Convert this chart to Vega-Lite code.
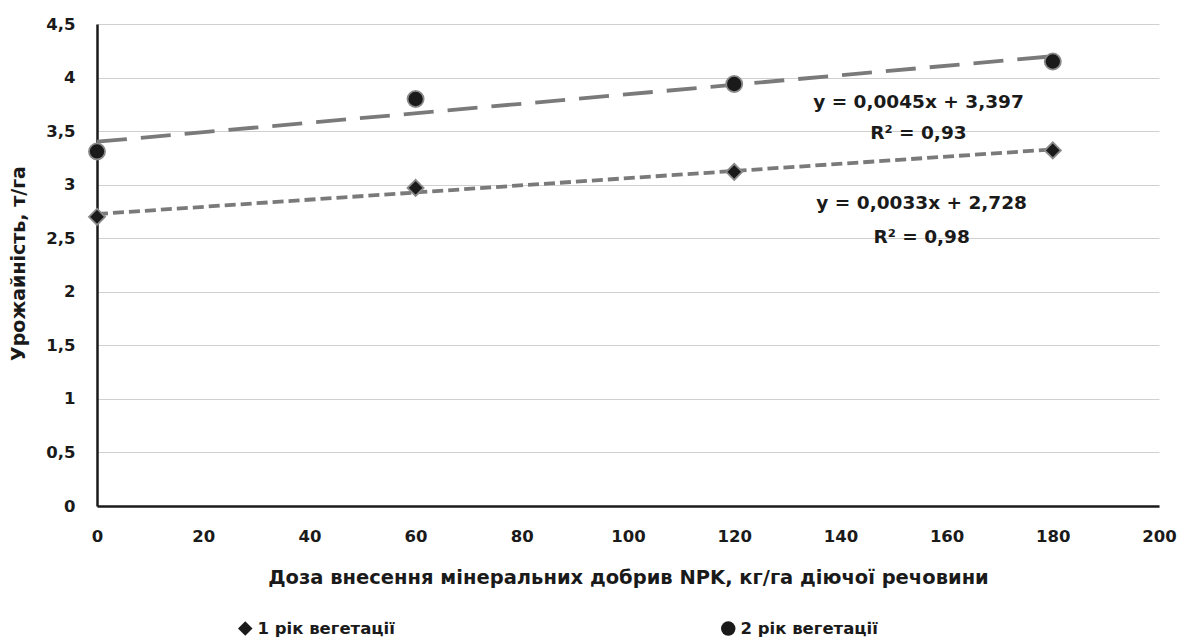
{
  "$schema": "https://vega.github.io/schema/vega-lite/v6.json",
  "width": 1062,
  "height": 482,
  "autosize": {"type": "none"},
  "padding": {"left": 97, "top": 24, "right": 21, "bottom": 133},
  "background": "white",
  "datasets": {
    "points": [
      {"dose": 0, "yield": 2.70, "series": "1 рік вегетації"},
      {"dose": 60, "yield": 2.97, "series": "1 рік вегетації"},
      {"dose": 120, "yield": 3.12, "series": "1 рік вегетації"},
      {"dose": 180, "yield": 3.32, "series": "1 рік вегетації"},
      {"dose": 0, "yield": 3.31, "series": "2 рік вегетації"},
      {"dose": 60, "yield": 3.80, "series": "2 рік вегетації"},
      {"dose": 120, "yield": 3.94, "series": "2 рік вегетації"},
      {"dose": 180, "yield": 4.15, "series": "2 рік вегетації"}
    ],
    "labels": [
      {"dose": 154.7, "yield": 3.772, "text": "y = 0,0045x + 3,397"},
      {"dose": 154.7, "yield": 3.483, "text": "R² = 0,93"},
      {"dose": 155.3, "yield": 2.829, "text": "y = 0,0033x + 2,728"},
      {"dose": 155.3, "yield": 2.512, "text": "R² = 0,98"}
    ]
  },
  "config": {
    "font": "DejaVu Sans",
    "view": {"stroke": null},
    "axis": {
      "labelFont": "DejaVu Sans",
      "labelFontWeight": "bold",
      "labelFontSize": 16.5,
      "labelColor": "#1a1a1a",
      "labelFlush": false,
      "titleFont": "DejaVu Sans",
      "titleFontWeight": "bold",
      "titleFontSize": 19.5,
      "titleColor": "#1a1a1a",
      "ticks": false,
      "domainColor": "#1a1a1a",
      "domainWidth": 2.5,
      "gridColor": "#d0d0d0",
      "gridWidth": 1
    },
    "legend": {
      "labelFont": "DejaVu Sans",
      "labelFontWeight": "bold",
      "labelFontSize": 16.5,
      "labelColor": "#1a1a1a"
    }
  },
  "layer": [
    {
      "data": {"name": "points"},
      "transform": [
        {"filter": "datum.series === '1 рік вегетації'"},
        {"regression": "yield", "on": "dose", "extent": [0, 180]}
      ],
      "mark": {"type": "line", "color": "#7a7a7a", "strokeWidth": 3.8, "strokeDash": [11, 5]},
      "encoding": {
        "x": {
          "field": "dose",
          "type": "quantitative",
          "scale": {"domain": [0, 200], "nice": false},
          "axis": {
            "values": [0, 20, 40, 60, 80, 100, 120, 140, 160, 180, 200],
            "grid": false,
            "labelPadding": 22,
            "title": "Доза внесення мінеральних добрив NPK, кг/га діючої речовини",
            "titlePadding": 24
          }
        },
        "y": {
          "field": "yield",
          "type": "quantitative",
          "scale": {"domain": [0, 4.5], "nice": false},
          "axis": {
            "values": [0, 0.5, 1, 1.5, 2, 2.5, 3, 3.5, 4, 4.5],
            "labelExpr": "replace(format(datum.value, '~g'), '.', ',')",
            "labelPadding": 22,
            "title": "Урожайність, т/га",
            "titleFontSize": 19,
            "titleX": -79,
            "titleY": 239,
            "titleAngle": -90,
            "titleBaseline": "middle",
            "titleAlign": "center"
          }
        }
      }
    },
    {
      "data": {"name": "points"},
      "transform": [
        {"filter": "datum.series === '2 рік вегетації'"},
        {"regression": "yield", "on": "dose", "extent": [0, 180]}
      ],
      "mark": {"type": "line", "color": "#7a7a7a", "strokeWidth": 3.8, "strokeDash": [30, 14]},
      "encoding": {
        "x": {"field": "dose", "type": "quantitative"},
        "y": {"field": "yield", "type": "quantitative"}
      }
    },
    {
      "data": {"name": "points"},
      "mark": {"type": "point", "filled": true, "fill": "#1a1a1a", "stroke": "#8a8a8a", "strokeWidth": 1.8, "opacity": 1, "size": 260},
      "encoding": {
        "x": {"field": "dose", "type": "quantitative"},
        "y": {"field": "yield", "type": "quantitative"},
        "shape": {
          "field": "series",
          "type": "nominal",
          "scale": {"domain": ["1 рік вегетації", "2 рік вегетації"], "range": ["diamond", "circle"]},
          "legend": {
            "title": null,
            "orient": "none",
            "direction": "horizontal",
            "legendX": 140,
            "legendY": 596,
            "columnPadding": 323,
            "symbolSize": 210,
            "symbolFillColor": "#1a1a1a",
            "symbolStrokeColor": "#8a8a8a",
            "symbolStrokeWidth": 1.5,
            "symbolOpacity": 1,
            "labelOffset": 4
          }
        }
      }
    },
    {
      "data": {"name": "labels"},
      "mark": {"type": "text", "font": "DejaVu Sans", "fontWeight": "bold", "fontSize": 18.5, "color": "#1a1a1a", "align": "center", "baseline": "middle"},
      "encoding": {
        "x": {"field": "dose", "type": "quantitative"},
        "y": {"field": "yield", "type": "quantitative"},
        "text": {"field": "text"}
      }
    }
  ]
}
